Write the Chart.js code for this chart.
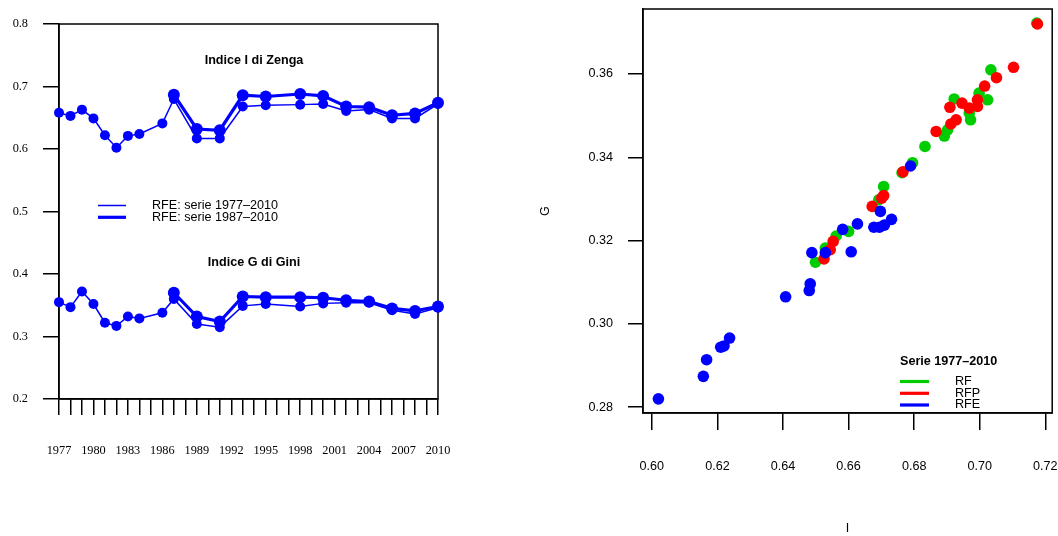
<!DOCTYPE html>
<html><head><meta charset="utf-8">
<script src="https://cdn.jsdelivr.net/npm/chart.js@4.4.1/dist/chart.umd.min.js"></script>
<style>
html,body{margin:0;padding:0;background:#fff;}
#wrap{position:relative;width:1058px;height:536px;overflow:hidden;background:#fff;}
#lbox{position:absolute;left:0;top:0;width:480px;height:536px;}
#rbox{position:absolute;left:480px;top:0;width:578px;height:536px;}
</style></head><body>
<div id="wrap"><div id="lbox"><canvas id="c1"></canvas></div><div id="rbox"><canvas id="c2"></canvas></div></div>
<script>
// ---- Left chart data: RFE indices over survey years ----
const yearsA = [1977,1978,1979,1980,1981,1982,1983,1984,1986,1987,1989,1991,1993,1995,1998,2000,2002,2004,2006,2008,2010];
const zengaA = [0.658,0.653,0.663,0.649,0.622,0.602,0.621,0.624,0.641,0.680,0.617,0.617,0.668,0.670,0.671,0.672,0.661,0.663,0.649,0.649,0.672];
const giniA  = [0.355,0.347,0.372,0.352,0.322,0.317,0.332,0.329,0.338,0.360,0.320,0.315,0.349,0.352,0.348,0.353,0.354,0.354,0.342,0.336,0.346];
const yearsB = [1987,1989,1991,1993,1995,1998,2000,2002,2004,2006,2008,2010];
const zengaB = [0.687,0.632,0.630,0.686,0.684,0.688,0.685,0.668,0.667,0.654,0.657,0.674];
const giniB  = [0.370,0.332,0.324,0.364,0.363,0.363,0.362,0.358,0.356,0.345,0.341,0.348];
const leftYTicks = [0.2,0.3,0.4,0.5,0.6,0.7,0.8];
const legendLeft = ["RFE: serie 1977\u20132010","RFE: serie 1987\u20132010"];
const titleZenga = "Indice I di Zenga";
const titleGini = "Indice G di Gini";

// ---- Right chart data: I (Zenga) vs G (Gini) ----
const rfI  = [0.6499,0.6529,0.6562,0.6600,0.6692,0.6707,0.6763,0.6795,0.6833,0.6892,0.6902,0.6922,0.6968,0.6972,0.6998,0.7024,0.7034,0.7174];
const rfG  = [0.3148,0.3182,0.3211,0.3222,0.3298,0.3330,0.3363,0.3387,0.3426,0.3451,0.3466,0.3540,0.3506,0.3490,0.3554,0.3538,0.3610,0.3722];
const rfpI = [0.6525,0.6544,0.6553,0.6672,0.6701,0.6707,0.6766,0.6867,0.6912,0.6928,0.6909,0.6946,0.6968,0.6993,0.6993,0.7015,0.7051,0.7103,0.7176];
const rfpG = [0.3156,0.3178,0.3198,0.3282,0.3302,0.3308,0.3365,0.3462,0.3480,0.3490,0.3520,0.3530,0.3518,0.3522,0.3538,0.3571,0.3591,0.3616,0.3720];
const rfeI = [0.6020,0.6157,0.6167,0.6210,0.6220,0.6237,0.6408,0.6480,0.6483,0.6488,0.6529,0.6582,0.6608,0.6627,0.6677,0.6694,0.6709,0.6731,0.6697,0.6789];
const rfeG = [0.2820,0.2874,0.2914,0.2944,0.2947,0.2966,0.3065,0.3080,0.3096,0.3171,0.3171,0.3227,0.3173,0.3240,0.3232,0.3232,0.3237,0.3251,0.3270,0.3379];
const seriesNames = ["RF","RFP","RFE"];
const legendRightTitle = "Serie 1977\u20132010";

const BLUE = '#0000FF', GREEN = '#00CD00', RED = '#FF0000';
const SANS = "'Liberation Sans', Arial, sans-serif";
Chart.defaults.font.family = SANS;
Chart.defaults.color = '#000';

const boxPlugin = {
  id: 'box',
  beforeDatasetsDraw(chart) {
    const {ctx, chartArea: a} = chart;
    ctx.save(); ctx.strokeStyle = '#000'; ctx.lineWidth = 1.5;
    ctx.strokeRect(a.left, a.top, a.right - a.left, a.bottom - a.top);
    ctx.restore();
  }
};

const pts = (xs, ys) => xs.map((x, i) => ({x: x, y: ys[i]}));

// ---------- Left chart ----------
const leftAnno = {
  id: 'leftAnno',
  afterDraw(chart) {
    const ctx = chart.ctx;
    ctx.save();
    ctx.fillStyle = '#000';
    ctx.textAlign = 'center'; ctx.textBaseline = 'middle';
    ctx.font = "bold 12.6px " + SANS;
    ctx.fillText(titleZenga, 254, 61);
    ctx.fillText(titleGini, 254, 263);
    ctx.strokeStyle = BLUE;
    ctx.lineWidth = 1.5;
    ctx.beginPath(); ctx.moveTo(98, 205.5); ctx.lineTo(126, 205.5); ctx.stroke();
    ctx.lineWidth = 3.2;
    ctx.beginPath(); ctx.moveTo(98, 217.3); ctx.lineTo(126, 217.3); ctx.stroke();
    ctx.textAlign = 'left';
    ctx.font = "12.6px " + SANS;
    ctx.fillText(legendLeft[0], 152, 205.5);
    ctx.fillText(legendLeft[1], 152, 217.5);
    ctx.restore();
  }
};

function lineDs(label, xs, ys, thick) {
  return {
    label: label, data: pts(xs, ys), borderColor: BLUE, backgroundColor: BLUE,
    borderWidth: thick ? 3.2 : 1.5, pointRadius: thick ? 6 : 5, pointBorderWidth: 0,
    pointBackgroundColor: BLUE, tension: 0, clip: false, showLine: true
  };
}

new Chart(document.getElementById('c1'), {
  type: 'line',
  data: { datasets: [
    lineDs('Zenga ' + legendLeft[0], yearsA, zengaA, false),
    lineDs('Zenga ' + legendLeft[1], yearsB, zengaB, true),
    lineDs('Gini ' + legendLeft[0], yearsA, giniA, false),
    lineDs('Gini ' + legendLeft[1], yearsB, giniB, true)
  ]},
  options: {
    responsive: true, maintainAspectRatio: false, animation: false, devicePixelRatio: 1,
    layout: { padding: { top: 24, right: 42, bottom: 0, left: 0 } },
    plugins: { legend: { display: false }, tooltip: { enabled: false } },
    scales: {
      x: {
        type: 'linear', min: 1977, max: 2010,
        afterFit(s) { s.height = 137; s.paddingLeft = 0; s.paddingRight = 0; },
        grid: { drawOnChartArea: false, drawTicks: true, tickLength: 16, color: '#000', lineWidth: 1.5 },
        border: { display: true, color: '#000', width: 1.5 },
        ticks: {
          stepSize: 1, autoSkip: false, maxTicksLimit: 100, maxRotation: 0, minRotation: 0,
          padding: 28, color: '#000',
          font: { family: "'Liberation Serif', 'Times New Roman', serif", size: 12.3 },
          callback: v => ((v - 1977) % 3 === 0 ? String(v) : '')
        }
      },
      y: {
        type: 'linear', min: 0.2, max: 0.8,
        afterFit(s) { s.width = 59; s.paddingTop = 0; s.paddingBottom = 0; },
        afterBuildTicks(s) { s.ticks = leftYTicks.map(v => ({value: v})); },
        grid: { drawOnChartArea: false, drawTicks: true, tickLength: 16, color: '#000', lineWidth: 1.5 },
        border: { display: true, color: '#000', width: 1.5 },
        ticks: {
          padding: 15, color: '#000',
          font: { family: "'Liberation Serif', 'Times New Roman', serif", size: 12.3 },
          callback: v => v.toFixed(1)
        }
      }
    }
  },
  plugins: [boxPlugin, leftAnno]
});

// ---------- Right chart ----------
const rightAnno = {
  id: 'rightAnno',
  afterDraw(chart) {
    const ctx = chart.ctx;
    ctx.save();
    ctx.fillStyle = '#000';
    ctx.textAlign = 'left'; ctx.textBaseline = 'middle';
    ctx.font = "bold 12.6px " + SANS;
    ctx.fillText(legendRightTitle, 420, 361.5);
    const cols = [GREEN, RED, BLUE];
    const ys = [381.5, 393.3, 405];
    ctx.font = "12.6px " + SANS;
    ctx.lineWidth = 3.2;
    for (let i = 0; i < 3; i++) {
      ctx.strokeStyle = cols[i];
      ctx.beginPath(); ctx.moveTo(420, ys[i]); ctx.lineTo(449, ys[i]); ctx.stroke();
      ctx.fillText(seriesNames[i], 475, ys[i]);
    }
    ctx.restore();
  }
};

function scatDs(label, xs, ys, col, order) {
  return { label: label, data: pts(xs, ys), backgroundColor: col, borderColor: col,
    pointRadius: 5.8, pointBorderWidth: 0, order: order, clip: false };
}

new Chart(document.getElementById('c2'), {
  type: 'scatter',
  data: { datasets: [
    scatDs(seriesNames[0], rfI, rfG, GREEN, 2),
    scatDs(seriesNames[1], rfpI, rfpG, RED, 1),
    scatDs(seriesNames[2], rfeI, rfeG, BLUE, 0)
  ]},
  options: {
    responsive: true, maintainAspectRatio: false, animation: false, devicePixelRatio: 1,
    layout: { padding: { top: 9, right: 5, bottom: 0, left: 0 } },
    plugins: { legend: { display: false }, tooltip: { enabled: false } },
    scales: {
      x: {
        type: 'linear', min: 0.5973, max: 0.7221,
        afterFit(s) { s.height = 123; s.paddingLeft = 0; s.paddingRight = 0; },
        grid: { drawOnChartArea: false, drawTicks: true, tickLength: 17, color: '#000', lineWidth: 1.5 },
        border: { display: true, color: '#000', width: 1.5 },
        title: { display: true, text: 'I', font: { size: 12.6 }, padding: { top: 0, bottom: 0 } },
        ticks: { stepSize: 0.02, includeBounds: false, padding: 29, maxRotation: 0, color: '#000',
          font: { size: 12.6 }, callback: v => v.toFixed(2) }
      },
      y: {
        type: 'linear', min: 0.2786, max: 0.3756,
        afterFit(s) { s.width = 163; s.paddingTop = 0; s.paddingBottom = 0; },
        grid: { drawOnChartArea: false, drawTicks: true, tickLength: 15, color: '#000', lineWidth: 1.5 },
        border: { display: true, color: '#000', width: 1.5 },
        title: { display: true, text: 'G', font: { size: 12.6 }, padding: { top: 58, bottom: 0 } },
        ticks: { stepSize: 0.02, includeBounds: false, padding: 15, color: '#000',
          font: { size: 12.6 }, callback: v => v.toFixed(2) }
      }
    }
  },
  plugins: [boxPlugin, rightAnno]
});
</script>
</body></html>
